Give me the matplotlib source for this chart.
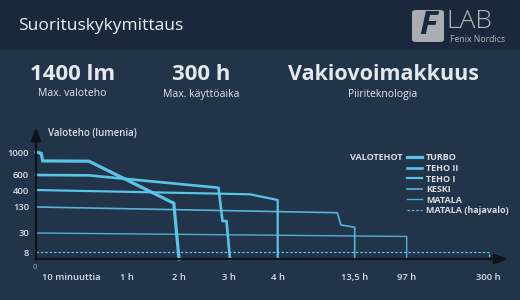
import numpy as np
import matplotlib
matplotlib.use('Agg')
import matplotlib.pyplot as plt
from matplotlib.patches import Rectangle, FancyBboxPatch
import matplotlib.transforms as mtransforms

plt.rcParams['font.family'] = ['Open Sans', 'DejaVu Sans']

## data (hours, lumens)
turbo_h = [0, 0.09, 0.115, 0.61, 1.9, 2.0]
turbo_lm = [1000, 975, 845, 840, 190, 0]
teho2_h = [0, 0.61, 2.79, 2.87, 2.95, 3.02]
teho2_lm = [600, 595, 430, 76, 76, 0]
teho1_h = [0, 3.43, 4.0, 4.0]
teho1_lm = [400, 332, 241, 0]
keski_h = [0, 11.35, 11.8, 13.5, 13.5]
keski_lm = [130, 108, 61, 52, 0]
matala_h = [0, 97, 97]
matala_lm = [30, 26, 0]
haja_h = [0, 300, 300]
haja_lm = [8, 8, 0]

series_names = ['TURBO', 'TEHO II', 'TEHO I', 'KESKI', 'MATALA', 'MATALA (hajavalo)']

x_ticks = [1/6, 1, 2, 3, 4, 13.5, 97, 300]
x_labels = ['10 minuuttia', '1 h', '2 h', '3 h', '4 h', '13,5 h', '97 h', '300 h']
y_ticks = [8, 30, 130, 400, 600, 1000]

stats = [('1400 lm', 'Max. valoteho'), ('300 h', 'Max. käyttöaika'),
         ('Vakiovoimakkuus', 'Piiriteknologia')]

# the chart uses uneven (hand spaced) axes, so map the tick values to positions
x_knots = [0, 1/6, 1, 2, 3, 4, 13.5, 97, 300]
x_pos = [0, 9.7, 91, 143, 193, 241.7, 318.7, 370.7, 452.7]
y_knots = [0, 8, 30, 130, 400, 600, 1000]
y_pos = [0, 7, 26, 52, 69, 84, 107]

def xf(v): return np.interp(v, x_knots, x_pos)
def xi(v): return np.interp(v, x_pos, x_knots)
def yf(v): return np.interp(v, y_knots, y_pos)
def yi(v): return np.interp(v, y_pos, y_knots)

header_bg = '#19283a'
body_bg = '#21344a'
line_c = '#5bc3e6'
text_c = '#d9dee3'
axis_c = '#0e1318'

W, H = 520, 300
fig = plt.figure(figsize=(5.2, 3.0), dpi=100)
fig.patch.set_facecolor(body_bg)
fig.patches.append(Rectangle((0, (H - 50) / H), 1, 50 / H, transform=fig.transFigure,
                             facecolor=header_bg, edgecolor='none', zorder=0))

def fx(px): return px / W
def fy(py): return 1 - py / H

fig.text(fx(18), fy(26), 'Suorituskykymittaus', color='#eef1f4', fontsize=12.5,
         va='center', ha='left')

# logo
fig.patches.append(FancyBboxPatch((fx(412), fy(42)), fx(32), 32 / H,
                                  boxstyle='round,pad=0,rounding_size=0.008',
                                  transform=fig.transFigure, facecolor='#a9adb1',
                                  edgecolor='none'))
fig.text(fx(428), fy(26), 'F', color=header_bg, fontsize=24, fontweight='bold',
         style='italic', ha='center', va='center')
fig.text(fx(446), fy(22), 'LAB', color='#b4b8bc', fontsize=19, fontweight='light',
         ha='left', va='center')
fig.text(fx(450), fy(39.5), 'Fenix Nordics', color='#b4b8bc', fontsize=6.2, ha='left',
         va='center')

for (big, small), cx, fs in zip(stats, [72.5, 201.5, 383], [16, 16, 15.5]):
    fig.text(fx(cx), fy(75), big, color='#e4e8ec', fontsize=fs, fontweight='bold',
             ha='center', va='center')
    fig.text(fx(cx), fy(94), small, color='#e4e8ec', fontsize=7.5, ha='center',
             va='center')

# chart axes: x 0 at px 36, 300 h at px 488.7; y 0 at px 259, 1000 at px 152
ax = fig.add_axes([fx(36), fy(259), (488.7 - 36) / W, 107 / H])
ax.set_facecolor('none')
ax.set_xscale('function', functions=(xf, xi))
ax.set_yscale('function', functions=(yf, yi))
ax.set_xlim(0, 300)
ax.set_ylim(0, 1000)
for s in ax.spines.values():
    s.set_visible(False)

ax.plot(turbo_h, turbo_lm, color=line_c, lw=2.3, label=series_names[0], clip_on=False,
        solid_joinstyle='miter')
ax.plot(teho2_h, teho2_lm, color=line_c, lw=1.9, label=series_names[1], clip_on=False)
ax.plot(teho1_h, teho1_lm, color=line_c, lw=1.6, label=series_names[2], clip_on=False)
ax.plot(keski_h, keski_lm, color=line_c, lw=1.2, label=series_names[3], clip_on=False,
        alpha=0.9)
ax.plot(matala_h, matala_lm, color=line_c, lw=1.0, label=series_names[4], clip_on=False,
        alpha=0.85)
ax.plot(haja_h, haja_lm, color=line_c, lw=0.9, ls=(0, (2, 1.5)), label=series_names[5],
        clip_on=False)

ax.set_xticks(x_ticks)
ax.set_xticklabels(x_labels)
ax.set_xticks([1/6], minor=True)
ax.set_yticks(y_ticks)
ax.set_yticklabels([str(v) for v in y_ticks])
ax.tick_params(axis='x', which='major', length=0, pad=10, labelsize=6.8, labelcolor=text_c)
ax.tick_params(axis='x', which='minor', length=3, width=1.2, color=axis_c, direction='out')
ax.tick_params(axis='y', length=0, pad=5, labelsize=6.8, labelcolor=text_c)
for lab in ax.get_xticklabels() + ax.get_yticklabels():
    lab.set_fontweight('semibold')
# first label starts at the tick instead of being centred on it
first = ax.get_xticklabels()[0]
first.set_horizontalalignment('left')
first.set_transform(first.get_transform() +
                    mtransforms.ScaledTranslation(-4 / 100, 0, fig.dpi_scale_trans))
ax.annotate('0', xy=(0, 0), xytext=(-1, -6), textcoords='offset points', ha='center',
            va='center', fontsize=5.5, color='#9aa4ad')

# axis arrows
ax.annotate('', xy=(fx(508), fy(259)), xycoords='figure fraction',
            xytext=(fx(35), fy(259)), textcoords='figure fraction',
            arrowprops=dict(arrowstyle='-|>,head_length=0.8,head_width=0.3',
                            color=axis_c, lw=1.6, shrinkA=0, shrinkB=0))
ax.annotate('', xy=(fx(36), fy(127)), xycoords='figure fraction',
            xytext=(fx(36), fy(260)), textcoords='figure fraction',
            arrowprops=dict(arrowstyle='-|>,head_length=0.8,head_width=0.3',
                            color=axis_c, lw=1.6, shrinkA=0, shrinkB=0))
fig.text(fx(48), fy(133), 'Valoteho (lumenia)', color=text_c, fontsize=7,
         fontweight='semibold', ha='left', va='center')

# legend
fig.text(fx(350), fy(158), 'VALOTEHOT', color=text_c, fontsize=6.5, fontweight='bold',
         ha='left', va='center')
leg = ax.legend(loc='upper left', bbox_to_anchor=(fx(407), fy(153.5)),
                bbox_transform=fig.transFigure, frameon=False, fontsize=6.5,
                handlelength=1.7, handletextpad=0.4, labelspacing=0.17,
                borderpad=0, borderaxespad=0)
for t in leg.get_texts():
    t.set_color(text_c)
    t.set_fontweight('bold')

fig.savefig('out.png', dpi=100, facecolor=fig.get_facecolor())
